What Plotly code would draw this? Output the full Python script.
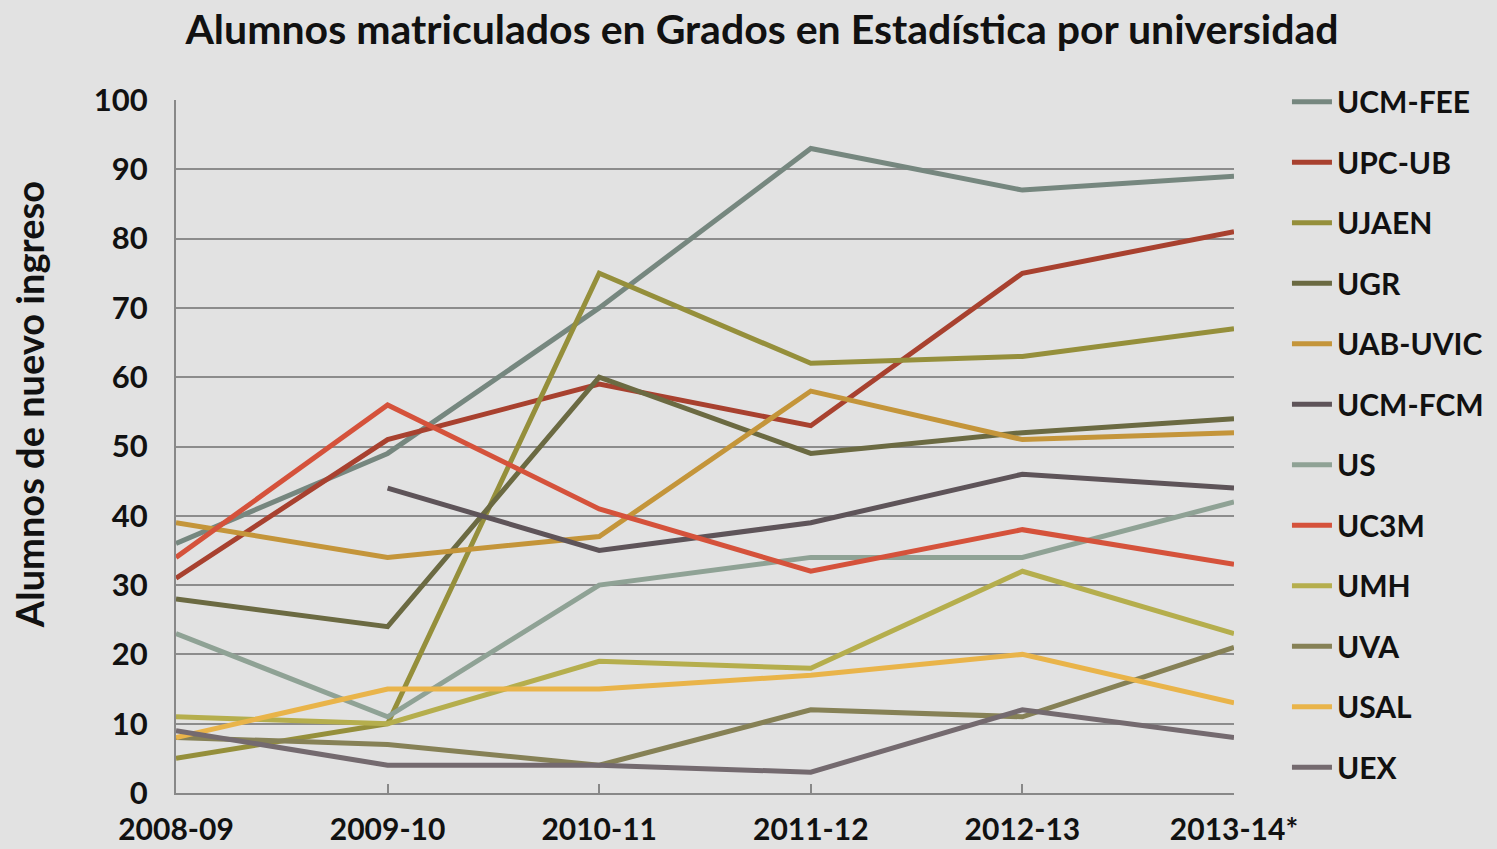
import plotly.graph_objects as go

years = ["2008-09", "2009-10", "2010-11", "2011-12", "2012-13", "2013-14*"]

ucm_fee = [36, 49, 70, 93, 87, 89]
upc_ub = [31, 51, 59, 53, 75, 81]
ujaen = [5, 10, 75, 62, 63, 67]
ugr = [28, 24, 60, 49, 52, 54]
uab_uvic = [39, 34, 37, 58, 51, 52]
ucm_fcm = [None, 44, 35, 39, 46, 44]
us = [23, 11, 30, 34, 34, 42]
uc3m = [34, 56, 41, 32, 38, 33]
umh = [11, 10, 19, 18, 32, 23]
uva = [8, 7, 4, 12, 11, 21]
usal = [8, 15, 15, 17, 20, 13]
uex = [9, 4, 4, 3, 12, 8]

series = [
    ("UCM-FEE", ucm_fee, "#76877f"),
    ("UPC-UB", upc_ub, "#a8412f"),
    ("UJAEN", ujaen, "#958f3b"),
    ("UGR", ugr, "#6b6a42"),
    ("UAB-UVIC", uab_uvic, "#c4953a"),
    ("UCM-FCM", ucm_fcm, "#5e5459"),
    ("US", us, "#8fa295"),
    ("UC3M", uc3m, "#d5523b"),
    ("UMH", umh, "#b5ae4d"),
    ("UVA", uva, "#868156"),
    ("USAL", usal, "#e9b44a"),
    ("UEX", uex, "#746a6f"),
]

FONT = "Lato"
TXT = "#111111"

fig = go.Figure()
for i, (name, vals, color) in enumerate(series):
    fig.add_trace(go.Scatter(
        x=list(range(len(years))), y=vals, name=name, mode="lines",
        line=dict(color=color, width=5),
        connectgaps=False, legendgroup=f"g{i}",
    ))

fig.add_annotation(
    text="Alumnos de nuevo ingreso", textangle=-90,
    xref="paper", yref="paper", x=-0.139, y=0.561,
    xanchor="center", yanchor="middle", showarrow=False,
    font=dict(family=FONT, size=38, color=TXT, weight="bold"),
)

fig.update_layout(
    width=1497, height=849,
    paper_bgcolor="#e2e2e2", plot_bgcolor="#e2e2e2",
    margin=dict(l=176, r=263, t=100, b=56, autoexpand=False),
    title=dict(
        text="Alumnos matriculados en Grados en Estadística por universidad",
        x=0.509, xanchor="center", y=0.965, yanchor="middle",
        font=dict(family=FONT, size=41, color=TXT, weight="bold"),
    ),
    font=dict(family=FONT, color=TXT),
    showlegend=True,
    legend=dict(
        xref="container", x=0.8597, xanchor="left", y=1.035, yanchor="top",
        font=dict(family=FONT, size=30, color=TXT, weight="bold"),
        tracegroupgap=18.5, bgcolor="rgba(0,0,0,0)",
        itemwidth=40, maxheight=845,
    ),
    xaxis=dict(
        range=[0, 5], tickmode="array", tickvals=list(range(len(years))),
        ticktext=years, showgrid=False, zeroline=False, automargin=False,
        showline=True, linecolor="#888888", linewidth=2,
        ticks="inside", ticklen=9, tickwidth=2, tickcolor="#888888",
        tickfont=dict(family=FONT, size=30, color=TXT, weight="bold"),
        ticklabelstandoff=9,
    ),
    yaxis=dict(
        range=[0, 100], dtick=10, showgrid=True, gridcolor="#8c8c8c",
        gridwidth=2, zeroline=False, automargin=False,
        showline=True, linecolor="#888888", linewidth=2,
        ticks="", tickfont=dict(family=FONT, size=31, color=TXT, weight="bold"),
        ticklabelstandoff=20,
    ),
)

fig.write_html(
    "out.html",
    config={"displayModeBar": False},
    post_script="document.body.style.margin='0';document.body.style.overflow='hidden';",
)
